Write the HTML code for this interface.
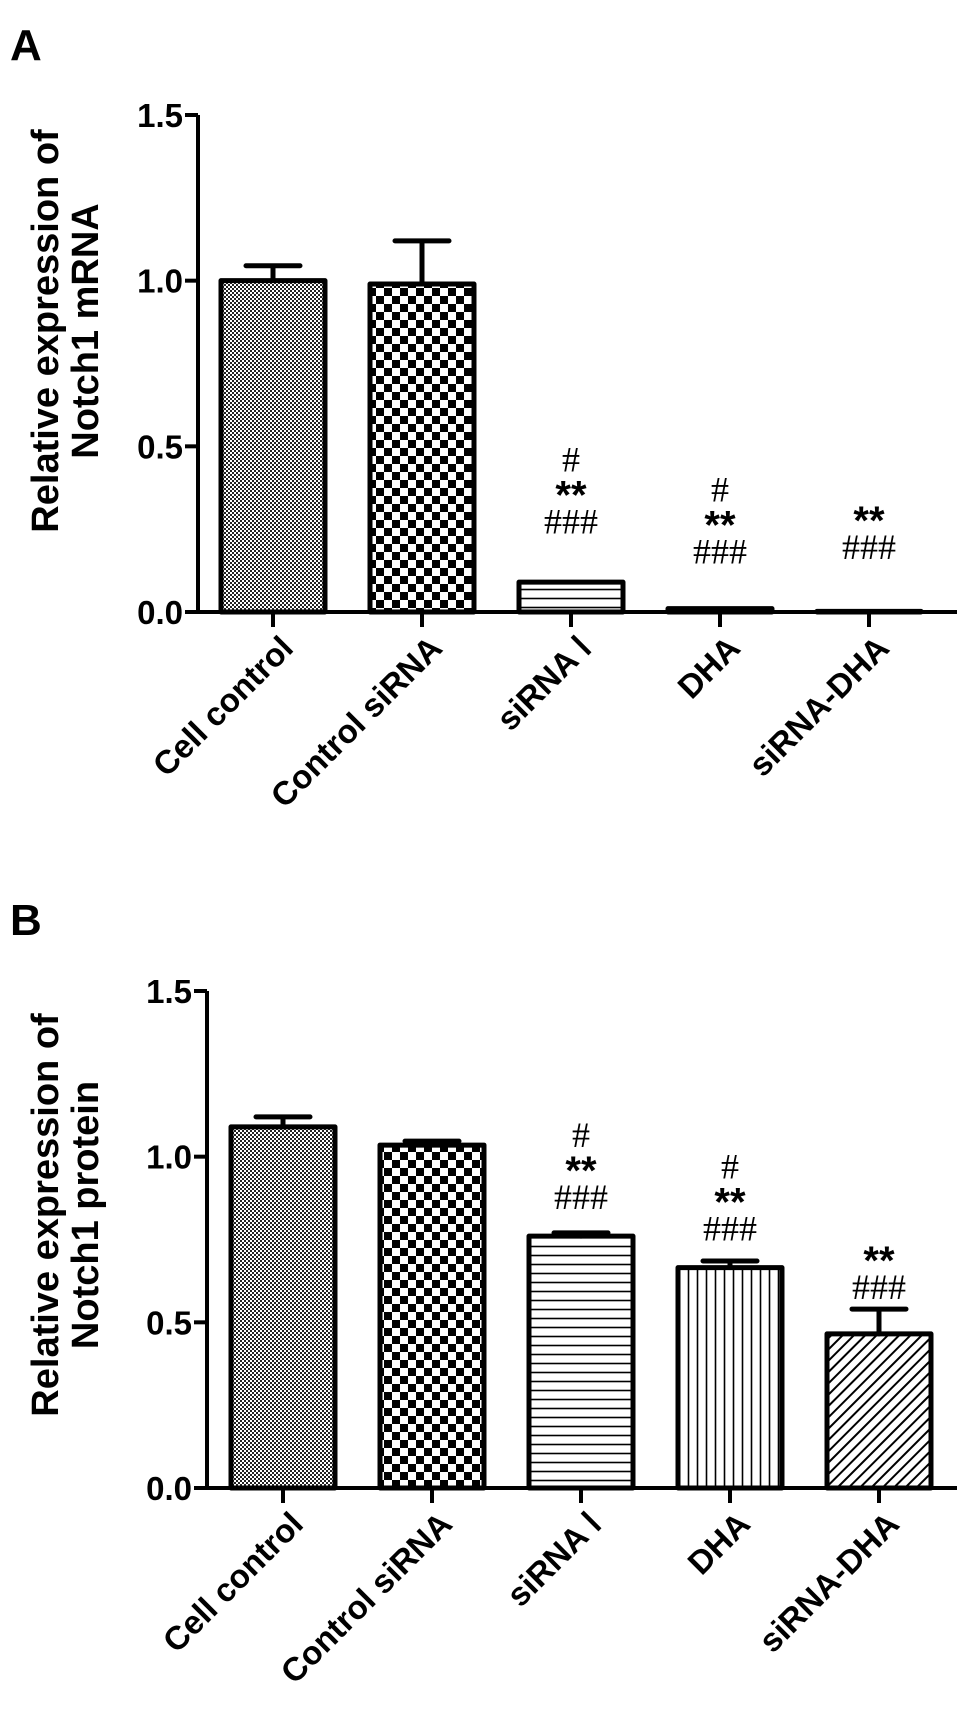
<!DOCTYPE html>
<html><head><meta charset="utf-8"><style>
html,body{margin:0;padding:0;background:#fff;}
svg{display:block;font-family:"Liberation Sans",Arial,sans-serif;font-weight:bold;}
</style></head><body>
<svg id="fig" width="969" height="1729" viewBox="0 0 969 1729" xmlns="http://www.w3.org/2000/svg">
<defs>
<pattern id="p0" width="4" height="4" patternUnits="userSpaceOnUse"><rect width="4" height="4" fill="#fff"/><rect width="2" height="2" fill="#222"/><rect x="2" y="2" width="2" height="2" fill="#222"/></pattern>
<pattern id="p1" width="16" height="16" patternUnits="userSpaceOnUse"><rect width="16" height="16" fill="#fff"/><rect width="8" height="8" fill="#000"/><rect x="8" y="8" width="8" height="8" fill="#000"/></pattern>
<pattern id="p2" width="10" height="9" patternUnits="userSpaceOnUse"><rect width="10" height="9" fill="#fff"/><line x1="0" y1="4.5" x2="10" y2="4.5" stroke="#000" stroke-width="1.6"/></pattern>
<pattern id="p3" width="9" height="10" patternUnits="userSpaceOnUse"><rect width="9" height="10" fill="#fff"/><line x1="4.5" y1="0" x2="4.5" y2="10" stroke="#000" stroke-width="1.6"/></pattern>
<pattern id="p4" width="8" height="8" patternUnits="userSpaceOnUse" patternTransform="rotate(-45)"><rect width="8" height="8" fill="#fff"/><line x1="0" y1="4" x2="8" y2="4" stroke="#000" stroke-width="2"/></pattern>
</defs>
<text x="10" y="60" font-size="44">A</text>
<text x="10" y="935" font-size="44">B</text>
<g id="chartA"></g>
<g id="chartB"></g>
</svg>
<script>
const categories = ["Cell control", "Control siRNA", "siRNA \u2160", "DHA", "siRNA-DHA"];
const mrnaValues = [1.0, 0.99, 0.09, 0.01, 0.002];
const mrnaErrors = [0.045, 0.13, 0, 0, 0];
const proteinValues = [1.09, 1.035, 0.76, 0.665, 0.465];
const proteinErrors = [0.03, 0.012, 0.01, 0.02, 0.075];
const yTicks = [0.0, 0.5, 1.0, 1.5];
const yTickLabels = ["0.0", "0.5", "1.0", "1.5"];
const mrnaMarks = [[], [], ["#", "**", "###"], ["#", "**", "###"], ["**", "###"]];
const mrnaMarkTop = [0, 0, 0.46, 0.37, 0.29];
const proteinMarks = [[], [], ["#", "**", "###"], ["#", "**", "###"], ["**", "###"]];
const proteinMarkTop = [0, 0, 1.065, 0.97, 0.70];

const NS = "http://www.w3.org/2000/svg";
function mk(tag, attrs, parent){const e=document.createElementNS(NS,tag);for(const k in attrs)e.setAttribute(k,attrs[k]);parent.appendChild(e);return e;}

function drawChart(g, cfg, values, errors, marks, markTop, title1, title2, prefix){
  const yScale = v => cfg.y0 - v/1.5*(cfg.y0-cfg.y15);
  const xCenter = i => cfg.x0 + i*cfg.step;
  const bw = 104;
  const ya = mk("line",{x1:cfg.ax,y1:cfg.y15,x2:cfg.ax,y2:cfg.y0+2,stroke:"#000","stroke-width":4},g);
  
  
  const xa = mk("line",{x1:cfg.ax-2,y1:cfg.y0,x2:cfg.xEnd,y2:cfg.y0,stroke:"#000","stroke-width":4},g);
  
  
  yTicks.forEach((t,i)=>{
    const y=yScale(t);
    const tk=mk("line",{x1:cfg.ax-13,y1:y,x2:cfg.ax,y2:y,stroke:"#000","stroke-width":4},g);
    
    
    const tl=mk("text",{x:cfg.ax-15,y:y+12,"font-size":33,"text-anchor":"end"},g);
    tl.textContent=yTickLabels[i];
    
    
  });
  const tt=mk("text",{transform:`translate(${cfg.titleX},${cfg.titleY}) rotate(-90)`,"font-size":38,"text-anchor":"middle"},g);
  
  
  const s1=mk("tspan",{x:0,dy:0},tt); s1.textContent=title1;
  const s2=mk("tspan",{x:0,dy:40},tt); s2.textContent=title2;
  values.forEach((v,i)=>{
    const cx=xCenter(i);
    const top=yScale(v);
    const b=mk("rect",{x:cx-bw/2,y:top,width:bw,height:Math.max(cfg.y0-top,0.5),fill:`url(#p${i})`,stroke:"#000","stroke-width":5,"stroke-linejoin":"round"},g);
    
    
    if(errors[i]>0){
      const ey=yScale(v+errors[i]);
      const el=mk("path",{d:`M${cx},${top} V${ey} M${cx-27},${ey} H${cx+27}`,stroke:"#000","stroke-width":5,fill:"none","stroke-linecap":"round"},g);
      
      
    }
    const xt=mk("line",{x1:cx,y1:cfg.y0,x2:cx,y2:cfg.y0+15,stroke:"#000","stroke-width":4},g);
    
    
    const xl=mk("text",{transform:`translate(${cx+22},${cfg.y0+38}) rotate(-45)`,"font-size":33,"text-anchor":"end"},g);
    xl.textContent=categories[i];
    
    
    let my=yScale(markTop[i]);
    marks[i].forEach(m=>{
      const isStar=m.indexOf('*')>=0;
      const mt=mk("text",{x:cx,y:my+(isStar?18:12),"font-size":isStar?40:36,"text-anchor":"middle","font-family":isStar?"'Liberation Sans',sans-serif":"'Liberation Serif',serif","font-weight":isStar?"bold":"normal"},g);
      mt.textContent=m;
      
      
      my+=31;
    });
  });
}
drawChart(document.getElementById('chartA'),{ax:198,y0:612,y15:115,x0:273,step:149,xEnd:957,titleX:58,titleY:331},mrnaValues,mrnaErrors,mrnaMarks,mrnaMarkTop,"Relative expression of","Notch1 mRNA","a");
drawChart(document.getElementById('chartB'),{ax:207,y0:1488,y15:991,x0:283,step:149,xEnd:957,titleX:58,titleY:1215},proteinValues,proteinErrors,proteinMarks,proteinMarkTop,"Relative expression of","Notch1 protein","b");
</script>
</body></html>
